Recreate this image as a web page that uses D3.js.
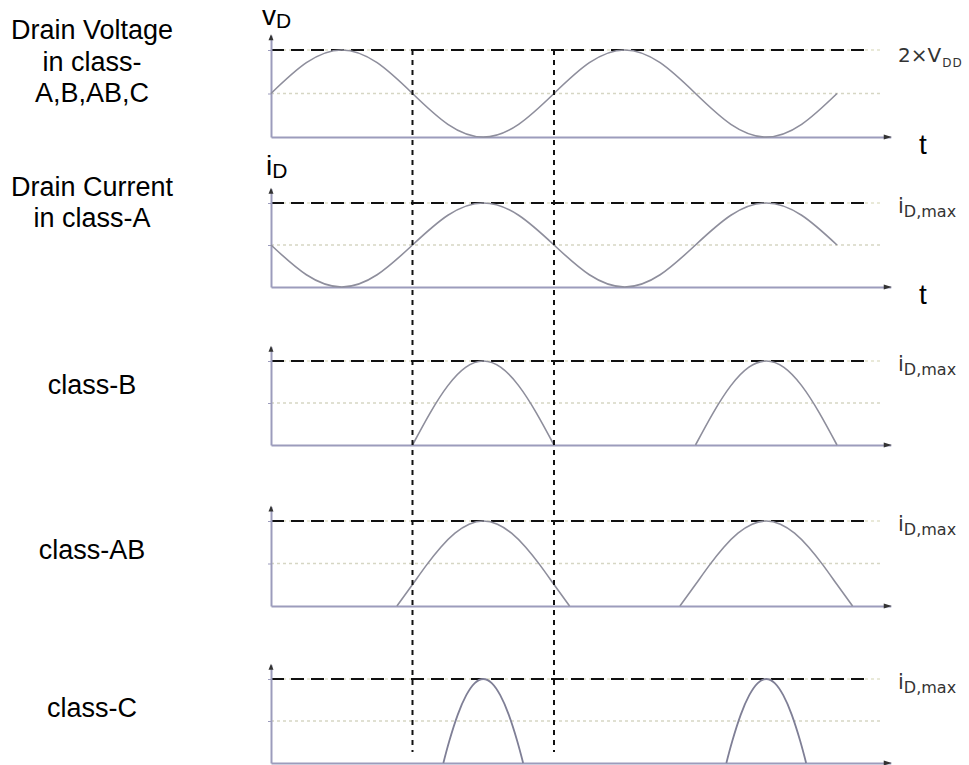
<!DOCTYPE html>
<html><head><meta charset="utf-8">
<script src="https://cdn.jsdelivr.net/npm/d3@7"></script>
<style>body{margin:0;background:#fff}svg{display:block}</style>
</head><body><div id="c"></div>
<script>
// ---------- data ----------
const panelNames = ["vD", "classA", "classB", "classAB", "classC"];
const sineT = [0,0.125,0.25,0.375,0.5,0.625,0.75,0.875,1,1.125,1.25,1.375,1.5,1.625,1.75,1.875,2];
const drainVoltage = [0.5,0.854,1,0.854,0.5,0.146,0,0.146,0.5,0.854,1,0.854,0.5,0.146,0,0.146,0.5];
const currentClassA = [0.5,0.146,0,0.146,0.5,0.854,1,0.854,0.5,0.146,0,0.146,0.5,0.854,1,0.854,0.5];
const pulseCenters = [0.75, 1.75];
const classBOffsets = [-0.25,-0.1875,-0.125,-0.0625,0,0.0625,0.125,0.1875,0.25];
const classBValues  = [0,0.383,0.707,0.924,1,0.924,0.707,0.383,0];
const classABOffsets = [-0.305,-0.25,-0.2,-0.15,-0.1,-0.05,0,0.05,0.1,0.15,0.2,0.25,0.305];
const classABValues  = [0,0.253,0.484,0.692,0.857,0.963,1,0.963,0.857,0.692,0.484,0.253,0];
const classCOffsets = [-0.141,-0.12,-0.09,-0.06,-0.03,0,0.03,0.06,0.09,0.12,0.141];
const classCValues  = [0,0.262,0.576,0.808,0.952,1,0.952,0.808,0.576,0.262,0];
const markerT = [0.5, 1.0];
const leftLabels = [["Drain Voltage","in class-","A,B,AB,C"],["Drain Current","in class-A"],["class-B"],["class-AB"],["class-C"]];
const rightMain = ["2×V","i","i","i","i"];
const rightSub  = ["DD","D,max","D,max","D,max","D,max"];
const axisYLabelMain = ["v","i"];
const axisYLabelSub = ["D","D"];
const timeLabel = "t";

// ---------- layout ----------
const W = 969, H = 765;
const panelTop  = [50, 203, 361, 521, 679];
const panelBase = [137, 287, 445, 606, 763];
const leftLabelY = [[30,62,93],[187,218],[385],[550],[708]];
const tAxisEnd = 2.19, tDashEnd = 2.12, tMidEnd = 2.155;

const svg = d3.select("#c").append("svg").attr("width", W).attr("height", H);
const x = d3.scaleLinear().domain([0,1]).range([271, 554]);

const axisColor = "#9c9cbc", curveColor = "#8e8e9c";
const line = (ys) => d3.line().x(d => x(d[0])).y(d => ys(d[1])).curve(d3.curveNatural);

function pulses(offsets, values){
  return pulseCenters.map(c => offsets.map((o,i)=>[c+o, values[i]]));
}
const seriesByPanel = [
  [sineT.map((t,i)=>[t, drainVoltage[i]])],
  [sineT.map((t,i)=>[t, currentClassA[i]])],
  pulses(classBOffsets, classBValues),
  pulses(classABOffsets, classABValues),
  pulses(classCOffsets, classCValues)
];

panelNames.forEach((name, p) => {
  const base = panelBase[p], top = panelTop[p];
  const y = d3.scaleLinear().domain([0,1]).range([base, top]);
  const g = svg.append("g");

  g.append("line").attr("x1", x(0)).attr("x2", x(tMidEnd)).attr("y1", y(0.5)).attr("y2", y(0.5))
    .attr("stroke", "#d6d6c4").attr("stroke-width", 1.5).attr("stroke-dasharray", "3,3");
  g.append("line").attr("x1", x(0)).attr("x2", x(tMidEnd)).attr("y1", y(1)).attr("y2", y(1))
    .attr("stroke", "#e2e2cc").attr("stroke-width", 1.5).attr("stroke-dasharray", "3,3");
  g.append("line").attr("x1", x(0)).attr("x2", x(tDashEnd)).attr("y1", y(1)).attr("y2", y(1))
    .attr("stroke", "#111").attr("stroke-width", 2).attr("stroke-dasharray", "13,7");

  const yAx = d3.scaleLinear().domain([0, 1.17]).range([base, y(1.17)]);
  const ya = g.append("g").attr("transform", `translate(${x(0)},0)`)
    .call(d3.axisLeft(yAx).tickValues([0.5, 1]).tickSize(3).tickSizeOuter(0).tickFormat(""));
  ya.select(".domain").attr("stroke", axisColor).attr("stroke-width", 2);
  ya.selectAll(".tick line").attr("stroke", axisColor).attr("stroke-width", 1);
  g.append("path").attr("d", `M${x(0)-2.5},${yAx(1.17)+5} L${x(0)},${yAx(1.17)-1} L${x(0)+2.5},${yAx(1.17)+5}Z`)
    .attr("fill", "#333");

  const xa = g.append("g").attr("transform", `translate(0,${base})`)
    .call(d3.axisBottom(x.copy().domain([0, tAxisEnd]).range([x(0), x(tAxisEnd)])).tickValues([]).tickSizeOuter(0));
  xa.select(".domain").attr("stroke", axisColor).attr("stroke-width", 2);
  g.append("path").attr("d", `M${x(tAxisEnd)-7},${base-2.5} L${x(tAxisEnd)+1},${base} L${x(tAxisEnd)-7},${base+2.5}Z`)
    .attr("fill", "#333");

  seriesByPanel[p].forEach(s => {
    g.append("path").datum(s).attr("d", line(y)).attr("fill", "none")
      .attr("stroke", p === 4 ? "#7f7f96" : curveColor).attr("stroke-width", p === 4 ? 1.8 : 1.6);
  });

  const rl = g.append("text").attr("x", 898).attr("y", y(1) + (p === 0 ? 12 : 10))
    .attr("font-family", "DejaVu Sans").attr("fill", "#333");
  rl.append("tspan").attr("font-size", p === 0 ? 20 : 21).text(rightMain[p]);
  rl.append("tspan").attr("font-size", p === 0 ? 12 : 16).attr("dy", p === 0 ? 5 : 4)
    .attr("dx", p === 0 ? 1 : 0).attr("letter-spacing", p === 0 ? 1 : 0).text(rightSub[p]);

  leftLabels[p].forEach((s, i) => {
    g.append("text").attr("x", 92).attr("y", leftLabelY[p][i]).attr("text-anchor", "middle")
      .attr("dominant-baseline", "central").attr("font-family", "Liberation Sans, Arial")
      .attr("font-size", 27).attr("fill", "#000").text(s);
  });
});

[panelBase[0], panelBase[1]].forEach(b => {
  svg.append("text").attr("x", 923).attr("y", b + 17).attr("text-anchor", "middle")
    .attr("font-family", "Liberation Sans, Arial").attr("font-size", 28).attr("fill", "#000").text(timeLabel);
});

const nameX = [262, 266], nameY = [25, 175];
axisYLabelMain.forEach((m, i) => {
  const t = svg.append("text").attr("x", nameX[i]).attr("y", nameY[i])
    .attr("font-family", "Liberation Sans, Arial").attr("fill", "#000");
  t.append("tspan").attr("font-size", 28).text(m);
  t.append("tspan").attr("font-size", 21).attr("dy", 3).text(axisYLabelSub[i]);
});

markerT.forEach(t => {
  svg.append("line").attr("x1", x(t)).attr("x2", x(t)).attr("y1", panelTop[0]).attr("y2", 752)
    .attr("stroke", "#111").attr("stroke-width", 2).attr("stroke-dasharray", "5,5");
});
</script></body></html>
